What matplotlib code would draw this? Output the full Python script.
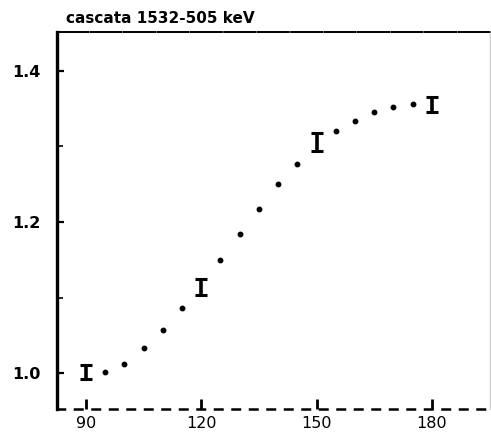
import matplotlib
matplotlib.use("Agg")
import matplotlib.pyplot as plt

# Measured angular correlation, cascade 1532-505 keV
angles_meas = [90, 120, 150, 180]
w_meas = [1.002, 1.114, 1.306, 1.355]
w_err = [0.009, 0.011, 0.012, 0.010]

# Theoretical curve, drawn as dots every 5 degrees
angles_theory = [95, 100, 105, 110, 115, 125, 130, 135, 140, 145,
                 155, 160, 165, 170, 175]
w_theory = [1.002, 1.013, 1.034, 1.058, 1.086, 1.150, 1.184, 1.217,
            1.250, 1.276, 1.320, 1.334, 1.345, 1.352, 1.356]

x_ticks = [90, 120, 150, 180]
x_tick_labels = ["90", "120", "150", "180"]
y_ticks = [1.0, 1.2, 1.4]
y_tick_labels = ["1.0", "1.2", "1.4"]
y_minor = [1.1, 1.3]

title = "cascata 1532-505 keV"

fig = plt.figure(figsize=(4.91, 4.37), dpi=100)
ax = fig.add_axes([0.1161, 0.0641, 0.8819, 0.8627])

ax.plot(angles_theory, w_theory, linestyle="none", marker="o",
        markersize=3.2, color="black")
ax.errorbar(angles_meas, w_meas, yerr=w_err, fmt="none", ecolor="black",
            elinewidth=2.6, capsize=4.3, capthick=2.2)

ax.set_xlim(82.5, 195.1)
ax.set_ylim(0.953, 1.451)

ax.set_xticks(x_ticks)
ax.set_xticklabels(x_tick_labels)
ax.set_yticks(y_ticks)
ax.set_yticklabels(y_tick_labels)
ax.set_yticks(y_minor, minor=True)

ax.tick_params(axis="both", which="both", direction="in", color="black")
ax.tick_params(axis="y", which="major", length=5, width=1.6, pad=12,
               labelsize=11.5)
ax.tick_params(axis="y", which="minor", length=4, width=1.2)
ax.tick_params(axis="x", which="major", length=7, width=2.0, pad=5,
               labelsize=11.5)
for lab in ax.get_yticklabels():
    lab.set_fontweight("bold")

ax.spines["left"].set_linewidth(2.4)
ax.spines["top"].set_linewidth(1.4)
ax.spines["top"].set_linestyle((0, (16, 1.2)))
ax.spines["bottom"].set_linewidth(1.8)
ax.spines["bottom"].set_linestyle((0, (3, 4)))
ax.spines["right"].set_linewidth(1.0)
ax.spines["right"].set_color("#d0d0d0")

fig.text(0.135, 0.958, title, fontsize=11, fontweight="bold",
         ha="left", va="center")

fig.savefig("out.png", dpi=100)
